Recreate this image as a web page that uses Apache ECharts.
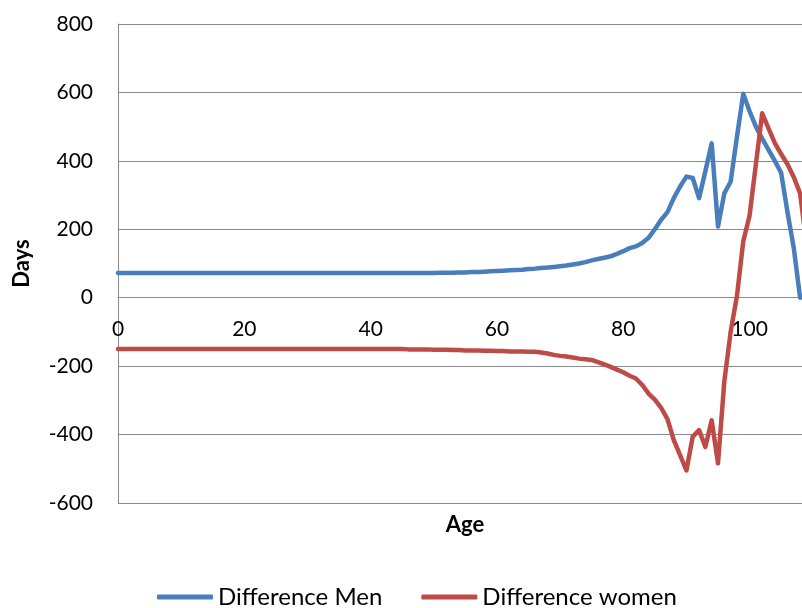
<!DOCTYPE html>
<html>
<head>
<meta charset="utf-8">
<script src="https://cdn.jsdelivr.net/npm/echarts@6/dist/echarts.min.js"></script>
<style>
  html, body { margin: 0; padding: 0; background: #fff; }
  #chart { width: 802px; height: 608px; }
</style>
</head>
<body>
<div id="chart"></div>
<script>
// Difference in days per age (index = age in years, starting at 0)
const seriesNames = ['Difference Men', 'Difference women'];

const diffMen = [
  72, 72, 72, 72, 72, 72, 72, 72, 72, 72,
  72, 72, 72, 72, 72, 72, 72, 72, 72, 72,
  72, 72, 72, 72, 72, 72, 72, 72, 72, 72,
  72, 72, 72, 72, 72, 72, 72, 72, 72, 72,
  72, 72, 72, 72, 72, 72, 72, 72, 72, 72,
  72, 73, 73, 73, 74, 74, 75, 75, 76, 77,
  78, 79, 80, 81, 82, 84, 85, 87, 88, 90,
  92, 94, 97, 100, 104, 109, 113, 117, 121, 128,
  136, 145, 150, 160, 175, 200, 228, 250, 291, 325,
  354, 350, 291, 370, 451, 208, 305, 339, 470, 596,
  545, 500, 465, 432, 400, 365, 250, 145, 0
];

const diffWomen = [
  -150, -150, -150, -150, -150, -150, -150, -150, -150, -150,
  -150, -150, -150, -150, -150, -150, -150, -150, -150, -150,
  -150, -150, -150, -150, -150, -150, -150, -150, -150, -150,
  -150, -150, -150, -150, -150, -150, -150, -150, -150, -150,
  -150, -150, -150, -150, -150, -150, -151, -151, -151, -151,
  -152, -152, -152, -153, -153, -154, -154, -154, -155, -155,
  -156, -156, -157, -157, -157, -158, -158, -160, -163, -167,
  -170, -172, -175, -178, -180, -182, -188, -195, -202, -210,
  -218, -228, -236, -255, -280, -298, -322, -355, -416, -460,
  -505, -406, -387, -436, -358, -484, -245, -100, 5, 165,
  240, 390, 539, 495, 452, 420, 390, 352, 305, 158
];

// Visible age range and tick step; the plot is cut at the right edge
const xTicks = { min: 0, max: 108.3, step: 20 };
const yTicks = { min: -600, max: 800, step: 200 };

const FONT = 'Lato, "Open Sans", sans-serif';
const GRID_COLOR = '#8a8a8a';

const GRID = { left: 118, right: 0, top: 24, bottom: 105 };
const CHART_H = 608;

// Shift the age axis up from the bottom of the grid so it sits on Days = 0
const plotH = CHART_H - GRID.top - GRID.bottom;
const zeroFromBottom = plotH * (0 - yTicks.min) / (yTicks.max - yTicks.min);

const toPoints = arr => arr.map((v, age) => [age, v]);

const chart = echarts.init(document.getElementById('chart'), null, { renderer: 'canvas' });

chart.setOption({
  animation: false,
  backgroundColor: '#ffffff',
  grid: Object.assign({ containLabel: false }, GRID),
  xAxis: {
    type: 'value',
    position: 'bottom',
    offset: -zeroFromBottom,
    min: xTicks.min,
    max: xTicks.max,
    interval: xTicks.step,
    axisLine: { onZero: false, lineStyle: { color: GRID_COLOR, width: 1 } },
    axisTick: { show: false },
    splitLine: { show: false },
    axisLabel: {
      color: '#000', fontFamily: FONT, fontSize: 21, margin: 21,
      showMaxLabel: false
    }
  },
  yAxis: {
    type: 'value',
    min: yTicks.min,
    max: yTicks.max,
    interval: yTicks.step,
    name: 'Days',
    nameLocation: 'middle',
    nameGap: 85,
    nameTextStyle: { color: '#000', fontFamily: FONT, fontSize: 22, fontWeight: 'bold' },
    axisLine: { show: true, lineStyle: { color: GRID_COLOR, width: 1 } },
    axisTick: { show: false },
    splitLine: { show: true, lineStyle: { color: GRID_COLOR, width: 1 } },
    axisLabel: { color: '#000', fontFamily: FONT, fontSize: 21, margin: 25 }
  },
  legend: {
    left: 157,
    top: 585,
    padding: 0,
    itemWidth: 56,
    itemHeight: 5,
    itemGap: 39,
    icon: 'roundRect',
    textStyle: { color: '#000', fontFamily: FONT, fontSize: 24 },
    data: seriesNames
  },
  graphic: [{
    type: 'text',
    x: 465,
    y: 525,
    style: {
      text: 'Age',
      align: 'center',
      verticalAlign: 'middle',
      font: 'bold 22px ' + FONT,
      fill: '#000'
    }
  }],
  series: [
    {
      name: seriesNames[0],
      type: 'line',
      data: toPoints(diffMen),
      showSymbol: false,
      symbol: 'none',
      lineStyle: { color: '#4a7ebb', width: 4.5, join: 'round', cap: 'round' },
      itemStyle: { color: '#4a7ebb' },
      z: 3
    },
    {
      name: seriesNames[1],
      type: 'line',
      data: toPoints(diffWomen),
      showSymbol: false,
      symbol: 'none',
      lineStyle: { color: '#be4b48', width: 4.5, join: 'round', cap: 'round' },
      itemStyle: { color: '#be4b48' },
      z: 4
    }
  ]
});
</script>
</body>
</html>
